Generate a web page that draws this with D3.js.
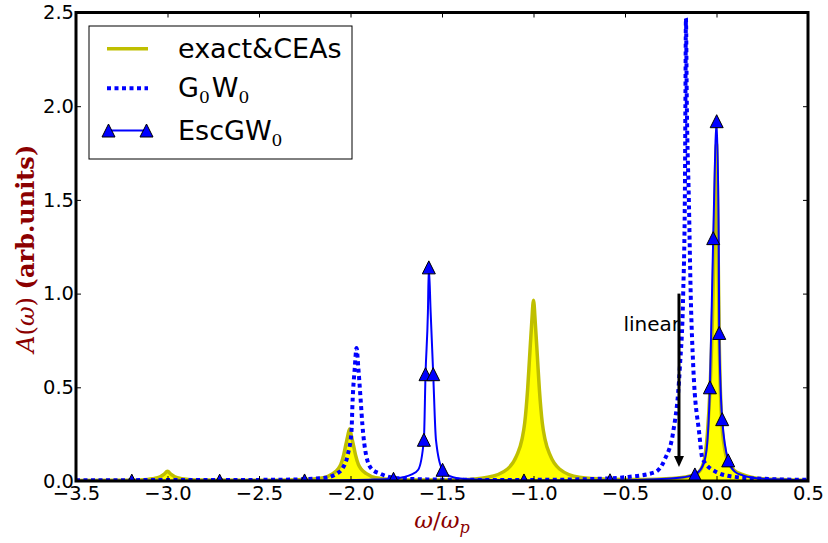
<!DOCTYPE html>
<html>
<head>
<style>
body {margin: 0; background: #fff; font-family: "DejaVu Sans";}
.axis text {font-family: "DejaVu Sans"; font-size: 19.5px; fill: #000;}
.axis line {stroke: #000; stroke-width: 1;}
</style>
<script src="https://cdnjs.cloudflare.com/ajax/libs/d3/7.8.5/d3.min.js"></script>
</head>
<body>
<div id="chart-container"></div>
<script>
// exact & CEAs spectral function (yellow, filled)
const exactX = [-3.5, -3.25, -3.15, -3.08, -3.04, -3.02, -3.0, -2.98, -2.96, -2.92, -2.85, -2.6,
    -2.405, -2.255, -2.147, -2.097, -2.068, -2.053, -2.037, -2.026, -2.015, -2.005, -1.995, -1.984,
    -1.973, -1.957, -1.942, -1.913, -1.863, -1.755, -1.6, -1.4,
    -1.25, -1.142, -1.092, -1.063, -1.048, -1.032, -1.021, -1.01, -1.0, -0.99, -0.979, -0.968,
    -0.952, -0.937, -0.908, -0.858, -0.75, -0.6, -0.4,
    -0.25, -0.15, -0.1, -0.07, -0.05, -0.035, -0.02, -0.01, 0.0, 0.008, 0.015, 0.028, 0.045,
    0.065, 0.1, 0.14, 0.25, 0.5];
const exactY = [0.003, 0.004, 0.006, 0.012, 0.022, 0.035, 0.052, 0.035, 0.022, 0.012, 0.006, 0.004,
    0.004, 0.008, 0.018, 0.039, 0.064, 0.089, 0.141, 0.191, 0.241, 0.277, 0.241, 0.191,
    0.141, 0.089, 0.064, 0.039, 0.018, 0.008, 0.005, 0.007,
    0.02, 0.064, 0.135, 0.222, 0.31, 0.49, 0.667, 0.84, 0.964, 0.84, 0.667, 0.49,
    0.31, 0.222, 0.135, 0.064, 0.02, 0.01, 0.008,
    0.013, 0.025, 0.045, 0.1, 0.25, 0.5, 0.95, 1.4, 1.8, 1.3, 0.75, 0.33, 0.17,
    0.1, 0.055, 0.035, 0.012, 0.004];

// G0W0 (blue dotted)
const g0w0X = [-3.5, -3.0, -2.5, -2.3, -2.2, -2.12, -2.075, -2.045, -2.015, -1.995, -1.988, -1.977,
    -1.967, -1.957, -1.945, -1.935, -1.915, -1.885, -1.84, -1.78, -1.65, -1.3, -1.0, -0.7, -0.5,
    -0.336, -0.282, -0.237, -0.2, -0.182, -0.173, -0.17, -0.167, -0.162, -0.151, -0.141, -0.127,
    -0.095, -0.076, 0.001, 0.1, 0.25, 0.5];
const g0w0Y = [0.004, 0.005, 0.006, 0.008, 0.012, 0.02, 0.04, 0.065, 0.14, 0.26, 0.44, 0.6,
    0.71, 0.6, 0.44, 0.3, 0.14, 0.065, 0.04, 0.02, 0.01, 0.006, 0.006, 0.01, 0.02,
    0.047, 0.117, 0.26, 0.61, 1.0, 1.5, 2.0, 2.47, 2.0, 1.5, 1.0, 0.61,
    0.26, 0.117, 0.047, 0.022, 0.012, 0.006];

// EscGW0 (blue solid with triangles)
const escX = [-3.5, -3.195, -2.715, -2.251, -1.9, -1.765, -1.714, -1.665, -1.63, -1.599, -1.59,
    -1.577, -1.572, -1.562, -1.548, -1.533, -1.497, -1.44, -1.35, -1.2, -1.052, -0.582, -0.4,
    -0.25, -0.18, -0.118, -0.076, -0.054, -0.036, -0.018, 0.001, 0.012, 0.015, 0.031, 0.064,
    0.1, 0.144, 0.25, 0.5];
const escY = [0.002, 0.002, 0.002, 0.003, 0.007, 0.012, 0.02, 0.035, 0.06, 0.22, 0.57,
    0.9, 1.14, 0.9, 0.57, 0.22, 0.06, 0.02, 0.009, 0.005, 0.003, 0.004, 0.007,
    0.013, 0.02, 0.035, 0.08, 0.17, 0.5, 1.296, 1.92, 1.3, 0.79, 0.33, 0.11,
    0.05, 0.03, 0.012, 0.004];
const escMarkX = [-3.195, -2.715, -2.251, -1.765, -1.599, -1.59, -1.572, -1.548, -1.497, -1.052,
    -0.582, -0.118, -0.036, -0.018, 0.001, 0.015, 0.031, 0.064];

const xTicks = [-3.5, -3.0, -2.5, -2.0, -1.5, -1.0, -0.5, 0.0, 0.5];
const yTicks = [0.0, 0.5, 1.0, 1.5, 2.0, 2.5];
const legendLabels = ["exact&CEAs", "G", "EscGW"];
const arrowX = -0.205, arrowFrom = 1.0, arrowTo = 0.075;
const noteText = "linear", noteY = 0.8;

const containerWidth = 828;
const containerHeight = 543;
const margin = { top: 12.5, right: 20, bottom: 62, left: 76 };
const width = containerWidth - margin.left - margin.right;
const height = containerHeight - margin.top - margin.bottom;

const svg = d3.select("#chart-container")
    .append("svg")
    .attr("width", containerWidth)
    .attr("height", containerHeight);

const g = svg.append("g")
    .attr("transform", `translate(${margin.left},${margin.top})`);

const x = d3.scaleLinear().domain([-3.5, 0.5]).range([0, width]);
const y = d3.scaleLinear().domain([0, 2.5]).range([height, 0]);

g.append("clipPath").attr("id", "clip")
  .append("rect").attr("width", width).attr("height", height);

const zip = (xs, ys) => xs.map((v, i) => [v, ys[i]]);
const exact = zip(exactX, exactY);
const g0w0 = zip(g0w0X, g0w0Y);
const esc = zip(escX, escY);
const escMarks = escMarkX.map(v => [v, escY[escX.indexOf(v)]]);

const line = d3.line().x(d => x(d[0])).y(d => y(d[1])).curve(d3.curveMonotoneX);
const area = d3.area().x(d => x(d[0])).y0(y(0)).y1(d => y(d[1])).curve(d3.curveMonotoneX);

const plot = g.append("g").attr("clip-path", "url(#clip)");

plot.append("path").datum(exact)
    .attr("d", area)
    .attr("fill", "#ffff00");
plot.append("path").datum(exact)
    .attr("d", line)
    .attr("fill", "none")
    .attr("stroke", "#bfbf00")
    .attr("stroke-width", 3.5);

plot.append("path").datum(g0w0)
    .attr("d", line)
    .attr("fill", "none")
    .attr("stroke", "#0000ff")
    .attr("stroke-width", 4)
    .attr("stroke-dasharray", "4,3.5");

plot.append("path").datum(esc)
    .attr("d", line)
    .attr("fill", "none")
    .attr("stroke", "#0000ff")
    .attr("stroke-width", 2);

const tri = s => `M0,${-s/2}L${-s/2},${s/2}L${s/2},${s/2}Z`;
plot.selectAll(".mk").data(escMarks).join("path")
    .attr("class", "mk")
    .attr("d", tri(13))
    .attr("transform", d => `translate(${x(d[0])},${y(d[1])})`)
    .attr("fill", "#0000ff")
    .attr("stroke", "#000")
    .attr("stroke-width", 1);

// arrow annotation
g.append("line")
    .attr("x1", x(arrowX)).attr("x2", x(arrowX))
    .attr("y1", y(arrowFrom)).attr("y2", y(arrowTo) - 9)
    .attr("stroke", "#000").attr("stroke-width", 3);
g.append("path")
    .attr("d", `M${x(arrowX)},${y(arrowTo)}l-5,-11l10,0Z`)
    .attr("fill", "#000");
g.append("text")
    .attr("x", x(arrowX) + 1).attr("y", y(noteY))
    .attr("text-anchor", "end")
    .style("font-size", "20px")
    .text(noteText);

// axes
const fmt = d3.format(".1f");
g.append("g").attr("class", "axis")
    .attr("transform", `translate(0,${height})`)
    .call(d3.axisBottom(x).tickValues(xTicks).tickSize(-5).tickPadding(5).tickFormat(fmt))
    .call(a => a.select(".domain").remove());
g.append("g").attr("class", "axis")
    .call(d3.axisTop(x).tickValues(xTicks).tickSize(-5).tickFormat(""))
    .call(a => a.select(".domain").remove());
g.append("g").attr("class", "axis")
    .call(d3.axisLeft(y).tickValues(yTicks).tickSize(-5).tickPadding(2).tickFormat(fmt))
    .call(a => a.select(".domain").remove());
g.append("g").attr("class", "axis")
    .attr("transform", `translate(${width},0)`)
    .call(d3.axisRight(y).tickValues(yTicks).tickSize(-5).tickFormat(""))
    .call(a => a.select(".domain").remove());
g.selectAll(".axis text").attr("font-family", null).attr("font-size", null);

g.append("rect")
    .attr("width", width).attr("height", height)
    .attr("fill", "none").attr("stroke", "#000").attr("stroke-width", 3);

// axis labels
const xl = svg.append("text")
    .attr("x", margin.left + width / 2).attr("y", 528)
    .attr("text-anchor", "middle")
    .attr("fill", "#8b0000")
    .style("font-family", "DejaVu Serif")
    .style("font-size", "23px");
xl.append("tspan").style("font-style", "italic").text("ω");
xl.append("tspan").text("/");
xl.append("tspan").style("font-style", "italic").text("ω");
xl.append("tspan").style("font-style", "italic").style("font-size", "16px").attr("dy", 5).text("p");

const yl = svg.append("text")
    .attr("transform", `translate(34,${margin.top + height / 2 + 2}) rotate(-90)`)
    .attr("text-anchor", "middle")
    .attr("fill", "#8b0000")
    .style("font-family", "DejaVu Serif")
    .style("font-size", "24px");
yl.append("tspan").style("font-style", "italic").text("A");
yl.append("tspan").text("(");
yl.append("tspan").style("font-style", "italic").text("ω");
yl.append("tspan").text(") ");
yl.append("tspan").style("font-weight", "600").text("(arb.units)");

// legend
const lg = svg.append("g").attr("transform", "translate(89,26)");
lg.append("rect").attr("width", 263).attr("height", 133)
    .attr("fill", "#fff").attr("stroke", "#000").attr("stroke-width", 1);
lg.append("line").attr("x1", 18).attr("x2", 59).attr("y1", 22.7).attr("y2", 22.7)
    .attr("stroke", "#bfbf00").attr("stroke-width", 3.5);
lg.append("line").attr("x1", 18).attr("x2", 59).attr("y1", 62.3).attr("y2", 62.3)
    .attr("stroke", "#0000ff").attr("stroke-width", 4).attr("stroke-dasharray", "4,3.5");
lg.append("line").attr("x1", 19.5).attr("x2", 57.5).attr("y1", 104.5).attr("y2", 104.5)
    .attr("stroke", "#0000ff").attr("stroke-width", 2);
[19.5, 57.5].forEach(px => lg.append("path").attr("d", tri(13))
    .attr("transform", `translate(${px},104.5)`)
    .attr("fill", "#0000ff").attr("stroke", "#000").attr("stroke-width", 1));

const lt = (yy) => lg.append("text").attr("x", 89).attr("y", yy).style("font-size", "27px");
lt(32.3).text(legendLabels[0]);
const t2 = lt(70.7);
t2.append("tspan").text(legendLabels[1]);
t2.append("tspan").attr("dy", 6).style("font-family", "DejaVu Serif").style("font-size", "17px").text("0");
t2.append("tspan").attr("dy", -6).attr("dx", 2).text("W");
t2.append("tspan").attr("dy", 6).style("font-family", "DejaVu Serif").style("font-size", "17px").text("0");
const t3 = lt(114);
t3.append("tspan").text(legendLabels[2]);
t3.append("tspan").attr("dy", 6).style("font-family", "DejaVu Serif").style("font-size", "17px").text("0");
</script>
</body>
</html>
